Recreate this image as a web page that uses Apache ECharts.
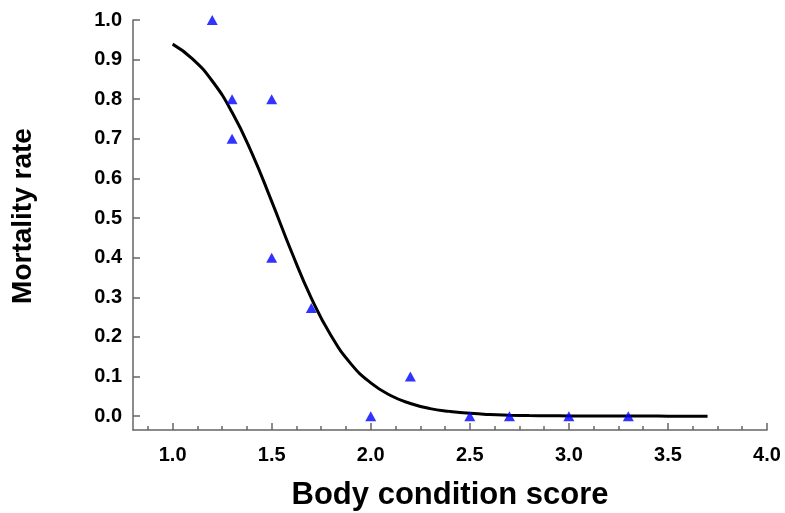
<!DOCTYPE html>
<html>
<head>
<meta charset="utf-8">
<script src="https://cdn.jsdelivr.net/npm/echarts@6/dist/echarts.min.js"></script>
<style>html,body{margin:0;padding:0;background:#fff}#c{width:785px;height:513px}</style>
</head>
<body>
<div id="c"></div>
<script>
// Observed data (body condition score, mortality rate)
const obsX = [1.2, 1.3, 1.3, 1.5, 1.5, 1.7, 2.0, 2.2, 2.5, 2.7, 3.0, 3.3];
const obsY = [1.0, 0.8, 0.7, 0.8, 0.4, 0.273, 0.0, 0.1, 0.0, 0.0, 0.0, 0.0];
// Fitted curve, values
const fitX = [1.0, 1.1, 1.2, 1.3, 1.4, 1.5, 1.6, 1.7, 1.8, 1.9, 2.0, 2.1, 2.2, 2.3, 2.4, 2.5, 2.6, 2.7, 2.8, 2.9, 3.0, 3.1, 3.2, 3.3, 3.4, 3.5, 3.6, 3.7];
const fitY = [0.939, 0.902, 0.846, 0.767, 0.664, 0.542, 0.415, 0.298, 0.203, 0.132, 0.084, 0.052, 0.032, 0.019, 0.012, 0.007, 0.004, 0.0025, 0.0015, 0.0009, 0.0005, 0.0003, 0.0002, 0.0001, 0.0001, 0.0, 0.0, 0.0];
// Tick labels
const xMajorTicks = [1.0, 1.5, 2.0, 2.5, 3.0, 3.5, 4.0];
const xMinorTicks = [0.875, 1.125, 1.25, 1.375, 1.625, 1.75, 1.875, 2.125, 2.25, 2.375, 2.625, 2.75, 2.875, 3.125, 3.25, 3.375, 3.625, 3.75, 3.875];
const yTicks = [0.0, 0.1, 0.2, 0.3, 0.4, 0.5, 0.6, 0.7, 0.8, 0.9, 1.0];

const font = 'Liberation Sans, Arial, sans-serif';
const axisColor = '#666666';

const chart = echarts.init(document.getElementById('c'), null, {renderer: 'canvas'});
chart.setOption({
  animation: false,
  backgroundColor: '#ffffff',
  grid: {left: 133, right: 18, top: 20, bottom: 83, containLabel: false, outerBoundsMode: 'none'},
  xAxis: [{
    type: 'value', min: 0.8, max: 4.0,
    name: 'Body condition score', nameLocation: 'middle', nameGap: 50,
    nameTextStyle: {fontFamily: font, fontWeight: 'bold', fontSize: 31, color: '#000'},
    axisLine: {show: true, onZero: false, lineStyle: {color: axisColor, width: 1.5}},
    axisTick: {show: true, inside: true, length: 7, customValues: xMajorTicks, lineStyle: {color: axisColor, width: 1.5}},
    axisLabel: {show: true, margin: 15, customValues: xMajorTicks, formatter: v => v.toFixed(1),
      fontFamily: font, fontWeight: 'bold', fontSize: 20, color: '#000'},
    splitLine: {show: false}
  }, {
    type: 'value', min: 0.8, max: 4.0, position: 'bottom',
    axisLine: {show: false, onZero: false},
    axisTick: {show: true, inside: true, length: 4, customValues: xMinorTicks, lineStyle: {color: axisColor, width: 1.5}},
    axisLabel: {show: false},
    splitLine: {show: false}
  }],
  yAxis: {
    type: 'value', min: -0.035, max: 1.0,
    name: 'Mortality rate', nameLocation: 'middle', nameGap: 96, nameRotate: 90,
    nameTextStyle: {fontFamily: font, fontWeight: 'bold', fontSize: 28, color: '#000', padding: [0, 0, 0, 18]},
    axisLine: {show: true, onZero: false, lineStyle: {color: axisColor, width: 1.5}},
    axisTick: {show: true, inside: true, length: 7, customValues: yTicks, lineStyle: {color: axisColor, width: 1.5}},
    axisLabel: {show: true, margin: 11, customValues: yTicks, formatter: v => v.toFixed(1),
      fontFamily: font, fontWeight: 'bold', fontSize: 20, color: '#000'},
    splitLine: {show: false}
  },
  series: [{
    type: 'line', xAxisIndex: 0,
    data: fitX.map((x, i) => [x, fitY[i]]),
    smooth: true, showSymbol: false, symbol: 'none',
    lineStyle: {color: '#000', width: 3},
    z: 2
  }, {
    type: 'scatter', xAxisIndex: 0,
    data: obsX.map((x, i) => [x, obsY[i]]),
    symbol: 'triangle', symbolSize: [11, 10],
    itemStyle: {color: '#0000ff'},
    z: 3
  }]
});
</script>
</body>
</html>
